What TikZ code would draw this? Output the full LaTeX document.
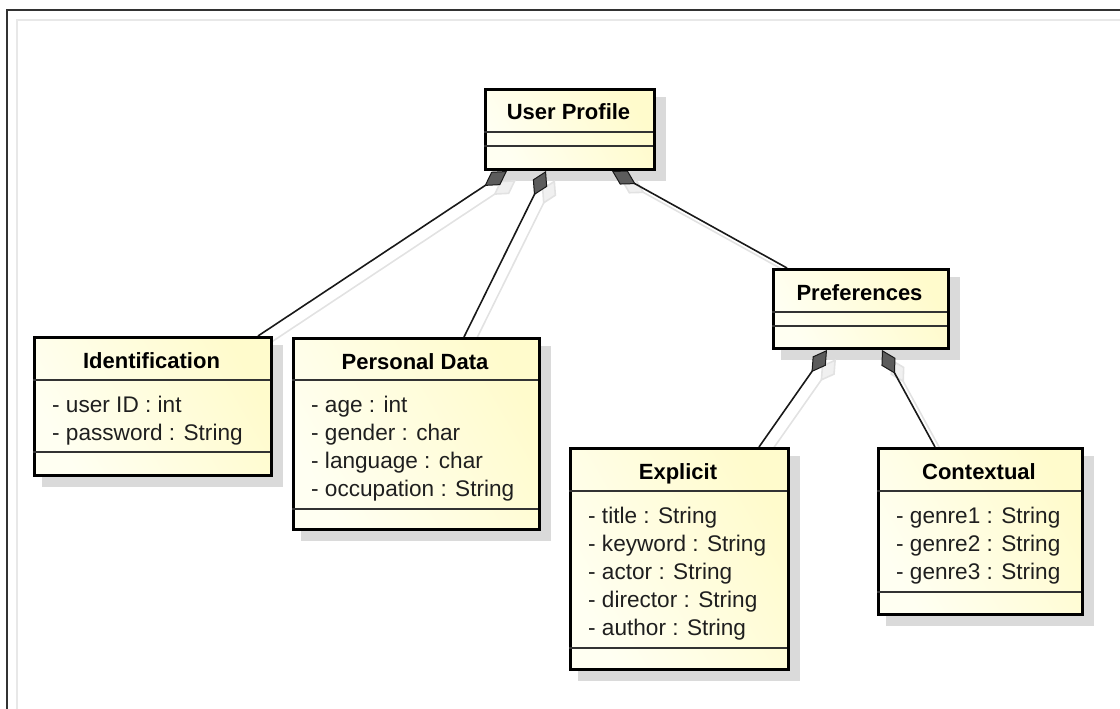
\documentclass[tikz,border=0pt]{standalone}
\usepackage{fontspec}
\setmainfont{Liberation Sans}
\usetikzlibrary{arrows.meta,calc}

\definecolor{boxlight}{RGB}{255,255,242}
\definecolor{boxdark}{RGB}{255,251,204}
\definecolor{boxshadow}{RGB}{218,218,218}
\definecolor{lineshadow}{RGB}{226,226,226}
\definecolor{diamondfill}{RGB}{92,92,92}
\definecolor{framedark}{RGB}{50,50,50}
\definecolor{framelight}{RGB}{232,232,232}

\pgfdeclarelayer{shadowlayer}
\pgfdeclarelayer{linelayer}
\pgfsetlayers{shadowlayer,linelayer,main}

\tikzset{
  classbox/.style={draw=black, line width=3pt, inner sep=0pt,
    left color=boxlight, right color=boxdark, shading angle=120},
  classname/.style={font=\fontsize{22}{28}\selectfont\bfseries,
    anchor=base, inner sep=0pt},
  classattr/.style={font=\fontsize{22.6}{28}\selectfont,
    anchor=base west, inner sep=0pt, text=black!88},
  sepline/.style={draw=black!80, line width=1.6pt},
  composition/.style={draw=black!90, line width=1.6pt,
    {Diamond[length=27pt,width=16pt,fill=diamondfill,line width=1pt]}-},
  compshadow/.style={draw=lineshadow, line width=1.6pt,
    {Diamond[length=27pt,width=16pt,fill=lineshadow!50!white]}-},
  framedarkline/.style={draw=framedark, line width=2pt},
  framelightline/.style={draw=framelight, line width=2pt}
}

% class box: name, left, top, right, bottom, first separator, second separator, title
\newcommand\umlclass[8]{%
  \node[classbox, anchor=north west,
        minimum width={#4-#2}, minimum height={#5-#3}] (#1) at (#2,#3) {};
  \begin{pgfonlayer}{shadowlayer}
    \fill[boxshadow] ($(#1.north west)+(9,9)$) rectangle ($(#1.south east)+(10,10)$);
  \end{pgfonlayer}
  \draw[sepline] (#2,#6) -- (#4,#6);
  \draw[sepline] (#2,#7) -- (#4,#7);
  \node[classname] (#1-title) at ({(#2+#4)/2},{#3+32}) {#8};
}

% attribute rows: name, left, first separator, list of rows
\newcommand\umlattrs[4]{%
  \foreach \row [count=\i from 0] in {#4}{
    \node[classattr] (#1-attr\i) at ({#2+19},{#3+32+28*\i}) {\row};
  }
}

\begin{document}
\begin{tikzpicture}[x=1pt,y=-1pt]
  \useasboundingbox (0,0) rectangle (1120,709);

  % outer frame
  \draw[framelightline] (1120,20) -- (17,20) -- (17,709);
  \draw[framedarkline] (1120,10) -- (7,10) -- (7,709);

  % classes
  \umlclass{up}{484}{88}{653}{168}{132}{146}{User Profile}
  \umlclass{ident}{33}{336}{270}{474}{380}{452}{Identification}
  \umlattrs{ident}{33}{380}{- user ID : int, - password : String}
  \umlclass{pd}{292}{337}{538}{528}{380}{509}{Personal Data}
  \umlattrs{pd}{292}{380}{- age : int, - gender : char, - language : char, - occupation : String}
  \umlclass{prefs}{772}{268}{947}{347}{312}{326}{Preferences}
  \umlclass{expl}{569}{447}{787}{668}{491}{648}{Explicit}
  \umlattrs{expl}{569}{491}{- title : String, - keyword : String, - actor : String, - director : String, - author : String}
  \umlclass{ctx}{877}{447}{1081}{613}{491}{592}{Contextual}
  \umlattrs{ctx}{877}{491}{- genre1 : String, - genre2 : String, - genre3 : String}

  % composition shadows
  \begin{pgfonlayer}{shadowlayer}
    \draw[compshadow] ($(up.south west)+(23+9,9)$) -- ($(ident.north west)+(225+9,9)$);
    \draw[compshadow] ($(up.south west)+(62+9,9)$) -- ($(pd.north west)+(172+9,9)$);
    \draw[compshadow] ($(up.south west)+(128+9,9)$) -- ($(prefs.north west)+(15+9,9)$);
    \draw[compshadow] ($(prefs.south west)+(55+9,9)$) -- ($(expl.north west)+(190+9,9)$);
    \draw[compshadow] ($(prefs.south west)+(110+9,9)$) -- ($(ctx.north west)+(58+9,9)$);
  \end{pgfonlayer}

  % compositions
  \begin{pgfonlayer}{linelayer}
    \draw[composition] ($(up.south west)+(23,0)$) -- ($(ident.north west)+(225,0)$);
    \draw[composition] ($(up.south west)+(62,0)$) -- ($(pd.north west)+(172,0)$);
    \draw[composition] ($(up.south west)+(128,0)$) -- ($(prefs.north west)+(15,0)$);
    \draw[composition] ($(prefs.south west)+(55,0)$) -- ($(expl.north west)+(190,0)$);
    \draw[composition] ($(prefs.south west)+(110,0)$) -- ($(ctx.north west)+(58,0)$);
  \end{pgfonlayer}
\end{tikzpicture}
\end{document}
